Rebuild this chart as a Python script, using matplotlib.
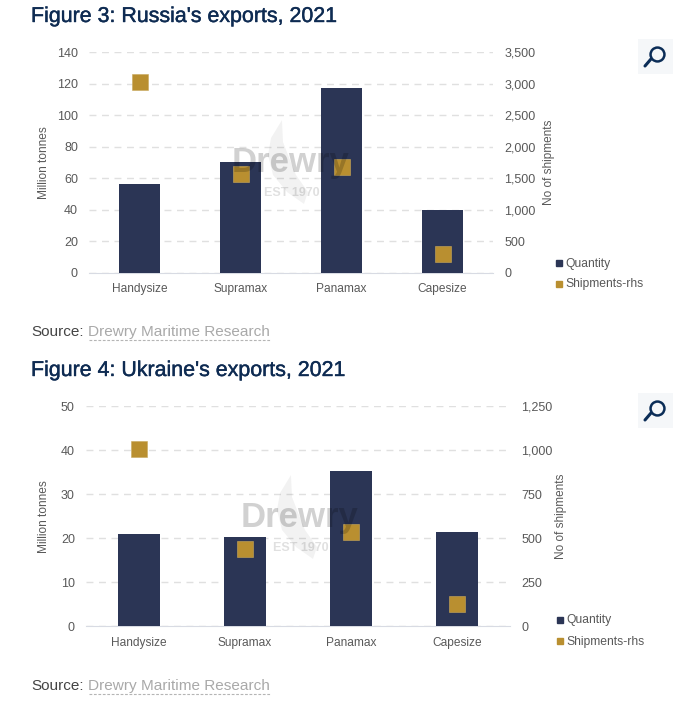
import matplotlib
matplotlib.use("Agg")
import matplotlib.pyplot as plt
import matplotlib.patheffects as pe
from matplotlib.patches import Polygon, Rectangle
from matplotlib.lines import Line2D

W, H = 686, 719

categories = ["Handysize", "Supramax", "Panamax", "Capesize"]

russia_quantity = [56.5, 70, 117, 39.5]
russia_shipments = [3020, 1570, 1680, 295]
russia_left_ticks = [0, 20, 40, 60, 80, 100, 120, 140]
russia_right_ticks = [0, 500, 1000, 1500, 2000, 2500, 3000, 3500]

ukraine_quantity = [21, 20.2, 35.3, 21.4]
ukraine_shipments = [1008, 440, 537, 125]
ukraine_left_ticks = [0, 10, 20, 30, 40, 50]
ukraine_right_ticks = [0, 250, 500, 750, 1000, 1250]

NAVY = "#2b3555"
GOLD = "#b98f30"
TEXT = "#595959"
TITLE = "#0e2b52"

plt.rcParams["font.family"] = ["Liberation Sans", "DejaVu Sans"]

fig = plt.figure(figsize=(W / 100, H / 100), dpi=100, facecolor="white")


def fx(x):
    return x / W


def fy(y):
    return 1 - y / H


def draw_watermark(cx, top):
    # flame behind the wordmark, offsets are from the text centre and the flame tip
    tip = cx - 9
    flame = [(tip, top), (tip - 11, top + 18), (tip - 14, top + 35), (tip - 9, top + 55),
             (tip + 5, top + 72), (tip + 22, top + 84), (tip + 26, top + 72), (tip + 14, top + 55),
             (tip + 8, top + 40), (tip + 1, top + 22)]
    fig.add_artist(Polygon([(fx(a), fy(b)) for a, b in flame], closed=True,
                           transform=fig.transFigure, fc="black", ec="none",
                           alpha=0.05, zorder=5))
    fig.text(fx(cx), fy(top + 42.5), "Drewry", fontsize=25, fontweight="bold", color="black",
             alpha=0.18, ha="center", va="center", zorder=6)
    fig.text(fx(cx + 1), fy(top + 73), "EST 1970", fontsize=9, fontweight="bold", color="black",
             alpha=0.12, ha="center", va="center", zorder=6)


def draw_icon(top):
    fig.add_artist(Rectangle((fx(637.5), fy(top + 35)), 35 / W, 35 / H, transform=fig.transFigure,
                             fc="#f5f7f9", ec="none", zorder=1))
    fig.add_artist(Line2D([fx(645), fx(651)], [fy(top + 27), fy(top + 20)], color="#0b2d57", lw=2.2,
                          solid_capstyle="round", zorder=2))
    fig.add_artist(Line2D([fx(657)], [fy(top + 15)], marker="o", ms=10, mfc="none", mec="#0b2d57",
                          mew=1.8, ls="none", zorder=2))


def draw_panel(title, title_y, left, right, top, bottom, quantity, shipments, left_ticks, right_ticks,
               bar_w, ylabel, ylabel_x, ylabel2_x, legend_x, legend_y, source_y):
    ax = fig.add_axes([fx(left), fy(bottom), (right - left) / W, (bottom - top) / H])
    x = range(len(categories))
    ax.bar(x, quantity, width=bar_w, color=NAVY, zorder=3)
    ax.set_xlim(-0.5, 3.5)
    ax.set_ylim(left_ticks[0], left_ticks[-1])
    ax.set_xticks(list(x))
    ax.set_xticklabels(categories)
    ax.set_yticks(left_ticks)
    ax.grid(axis="y", color="#e0e0e0", lw=1, ls=(0, (5, 4)), zorder=0)
    ax.tick_params(length=0, labelsize=9, labelcolor=TEXT)
    ax.tick_params(axis="x", labelsize=8.6, pad=7.5)
    ax.tick_params(axis="y", pad=8)
    for side in ["top", "left", "right"]:
        ax.spines[side].set_visible(False)
    ax.spines["bottom"].set_color("#d8dbe3")
    mid = (top + bottom) / 2
    fig.text(fx(ylabel_x), fy(mid), ylabel, rotation=90, fontsize=8.6, color=TEXT,
             ha="center", va="center")

    ax2 = ax.twinx()
    ax2.plot(x, shipments, ls="none", marker="s", ms=11.5, mfc=GOLD, mec="#c9a95c", mew=0.4, zorder=4)
    ax2.set_ylim(right_ticks[0], right_ticks[-1])
    ax2.set_yticks(right_ticks)
    ax2.set_yticklabels([f"{t:,}" for t in right_ticks])
    ax2.tick_params(length=0, labelsize=9, labelcolor=TEXT, pad=8)
    for side in ["top", "left", "right", "bottom"]:
        ax2.spines[side].set_visible(False)
    fig.text(fx(ylabel2_x), fy(mid), "No of shipments", rotation=90, fontsize=8.5,
             color=TEXT, ha="center", va="center")

    # title and source line
    fig.text(fx(31), fy(title_y), title, fontsize=15.4, color=TITLE, va="center", ha="left",
             path_effects=[pe.withStroke(linewidth=0.3, foreground=TITLE)])
    fig.text(fx(31), fy(source_y + 1), "Source:", fontsize=11, color="#444444", va="center", ha="left")
    fig.text(fx(88.5), fy(source_y + 1), "Drewry Maritime Research", fontsize=11.05, color="#a9a9a9",
             va="center", ha="left")
    fig.add_artist(Line2D([fx(88.5), fx(269.5)], [fy(source_y + 9), fy(source_y + 9)], color="#b5b5b5",
                          lw=0.8, ls=(0, (2.5, 1.5))))

    # legend squares
    fig.add_artist(Line2D([fx(legend_x)], [fy(legend_y)], marker="s", ms=4.4, color=NAVY, ls="none"))
    fig.add_artist(Line2D([fx(legend_x)], [fy(legend_y + 21)], marker="s", ms=5, color=GOLD, ls="none"))
    fig.text(fx(legend_x + 6), fy(legend_y + 0.5), "Quantity", fontsize=8.7, color=TEXT, va="center", ha="left")
    fig.text(fx(legend_x + 6), fy(legend_y + 21.5), "Shipments-rhs", fontsize=8.7, color=TEXT, va="center", ha="left")


draw_panel("Figure 3: Russia's exports, 2021", 16.5, 89, 493, 52.3, 272.5,
           russia_quantity, russia_shipments, russia_left_ticks, russia_right_ticks,
           0.4, "Million tonnes", 44, 549, 559, 263, 331)
draw_panel("Figure 4: Ukraine's exports, 2021", 370.5, 86, 510, 406.3, 626.3,
           ukraine_quantity, ukraine_shipments, ukraine_left_ticks, ukraine_right_ticks,
           0.4, "Million tonnes", 44, 561, 560, 620, 685)

draw_watermark(291, 120)
draw_watermark(300, 475)
draw_icon(39)
draw_icon(393)

fig.savefig("out.png", dpi=100)
